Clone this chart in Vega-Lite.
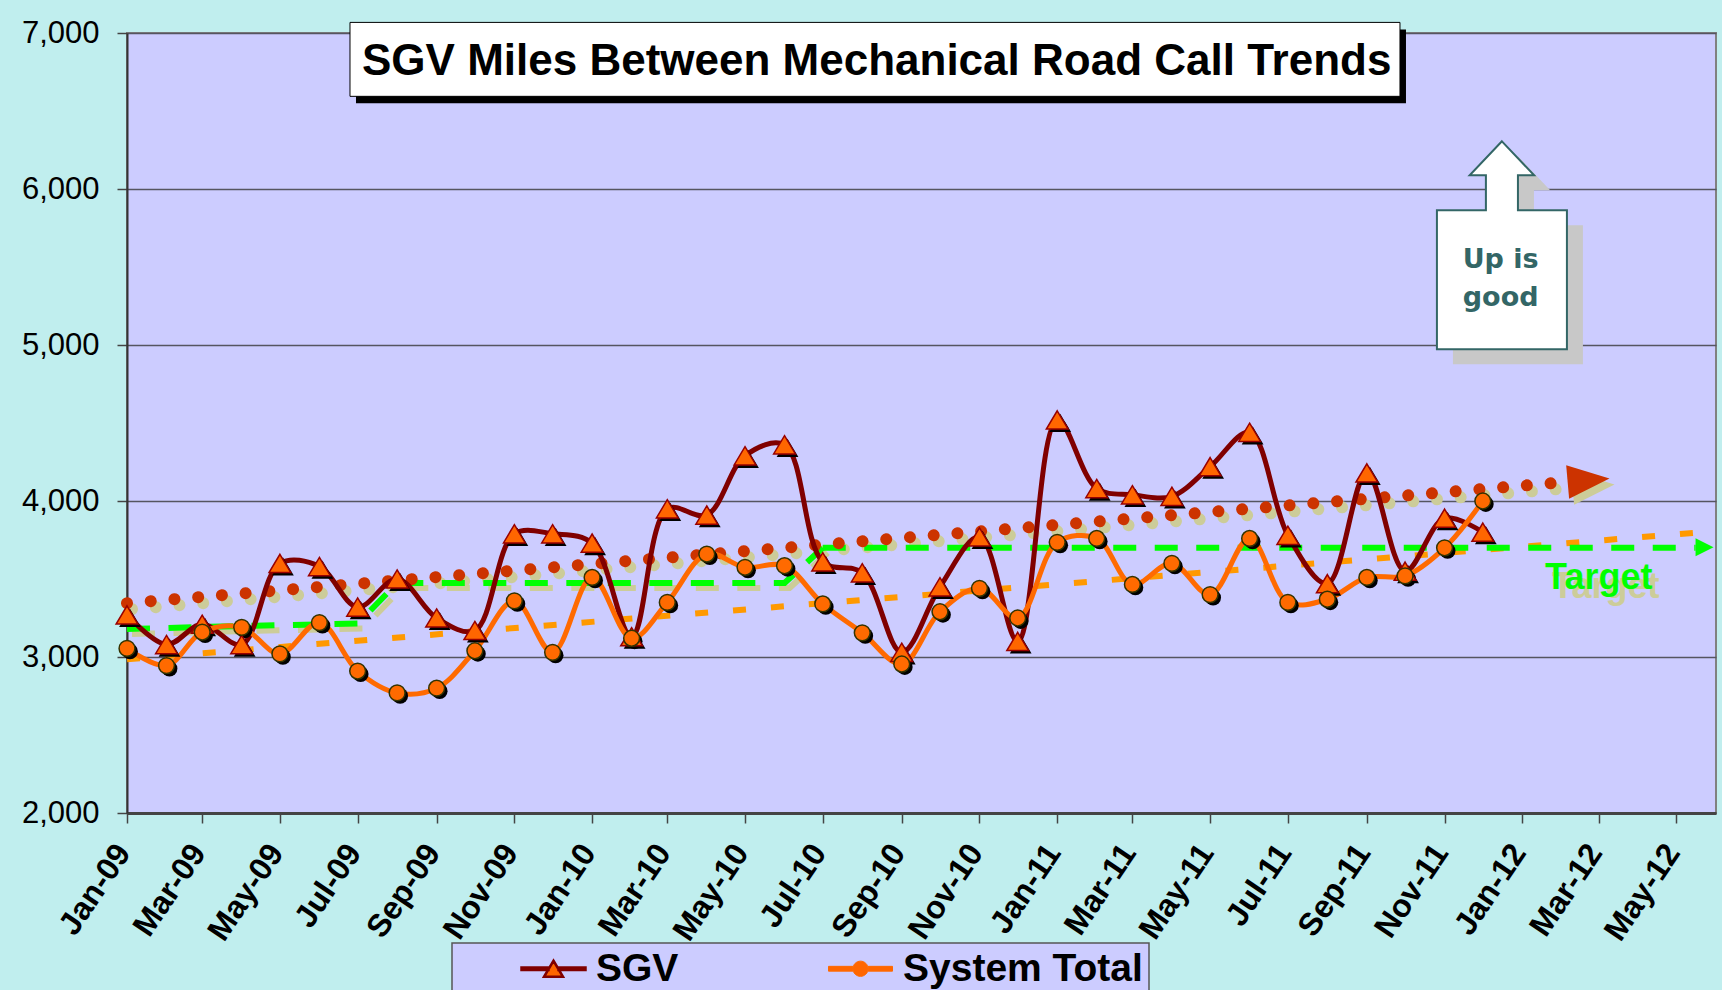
{
  "$schema": "https://vega.github.io/schema/vega-lite/v6.json",
  "width": 1589,
  "height": 780,
  "autosize": {"type": "none"},
  "padding": {"left": 127, "top": 33, "right": 6, "bottom": 177},
  "background": "#C0EEEE",
  "title": {
    "text": "SGV Miles Between Mechanical Road Call Trends",
    "anchor": "start",
    "frame": "group",
    "orient": "top",
    "offset": 0,
    "dx": 235,
    "dy": 102,
    "font": "Liberation Sans",
    "fontSize": 44,
    "fontWeight": "bold",
    "color": "#000000",
    "baseline": "alphabetic"
  },
  "datasets": {
    "series": [
      {"date": "2009-01-01", "series": "SGV", "value": 3270},
      {"date": "2009-02-01", "series": "SGV", "value": 3080},
      {"date": "2009-03-01", "series": "SGV", "value": 3210},
      {"date": "2009-04-01", "series": "SGV", "value": 3080},
      {"date": "2009-05-01", "series": "SGV", "value": 3600},
      {"date": "2009-06-01", "series": "SGV", "value": 3580},
      {"date": "2009-07-01", "series": "SGV", "value": 3320},
      {"date": "2009-08-01", "series": "SGV", "value": 3500},
      {"date": "2009-09-01", "series": "SGV", "value": 3250},
      {"date": "2009-10-01", "series": "SGV", "value": 3170},
      {"date": "2009-11-01", "series": "SGV", "value": 3790},
      {"date": "2009-12-01", "series": "SGV", "value": 3790},
      {"date": "2010-01-01", "series": "SGV", "value": 3730},
      {"date": "2010-02-01", "series": "SGV", "value": 3130},
      {"date": "2010-03-01", "series": "SGV", "value": 3950},
      {"date": "2010-04-01", "series": "SGV", "value": 3910},
      {"date": "2010-05-01", "series": "SGV", "value": 4290},
      {"date": "2010-06-01", "series": "SGV", "value": 4360},
      {"date": "2010-07-01", "series": "SGV", "value": 3610},
      {"date": "2010-08-01", "series": "SGV", "value": 3540},
      {"date": "2010-09-01", "series": "SGV", "value": 3030},
      {"date": "2010-10-01", "series": "SGV", "value": 3450},
      {"date": "2010-11-01", "series": "SGV", "value": 3770},
      {"date": "2010-12-01", "series": "SGV", "value": 3100},
      {"date": "2011-01-01", "series": "SGV", "value": 4520},
      {"date": "2011-02-01", "series": "SGV", "value": 4080},
      {"date": "2011-03-01", "series": "SGV", "value": 4040},
      {"date": "2011-04-01", "series": "SGV", "value": 4030},
      {"date": "2011-05-01", "series": "SGV", "value": 4220},
      {"date": "2011-06-01", "series": "SGV", "value": 4440},
      {"date": "2011-07-01", "series": "SGV", "value": 3780},
      {"date": "2011-08-01", "series": "SGV", "value": 3470},
      {"date": "2011-09-01", "series": "SGV", "value": 4180},
      {"date": "2011-10-01", "series": "SGV", "value": 3550},
      {"date": "2011-11-01", "series": "SGV", "value": 3890},
      {"date": "2011-12-01", "series": "SGV", "value": 3800},
      {"date": "2009-01-01", "series": "System Total", "value": 3055},
      {"date": "2009-02-01", "series": "System Total", "value": 2945},
      {"date": "2009-03-01", "series": "System Total", "value": 3160},
      {"date": "2009-04-01", "series": "System Total", "value": 3190},
      {"date": "2009-05-01", "series": "System Total", "value": 3020},
      {"date": "2009-06-01", "series": "System Total", "value": 3220},
      {"date": "2009-07-01", "series": "System Total", "value": 2910},
      {"date": "2009-08-01", "series": "System Total", "value": 2770},
      {"date": "2009-09-01", "series": "System Total", "value": 2800},
      {"date": "2009-10-01", "series": "System Total", "value": 3040},
      {"date": "2009-11-01", "series": "System Total", "value": 3360},
      {"date": "2009-12-01", "series": "System Total", "value": 3030},
      {"date": "2010-01-01", "series": "System Total", "value": 3510},
      {"date": "2010-02-01", "series": "System Total", "value": 3120},
      {"date": "2010-03-01", "series": "System Total", "value": 3350},
      {"date": "2010-04-01", "series": "System Total", "value": 3660},
      {"date": "2010-05-01", "series": "System Total", "value": 3575},
      {"date": "2010-06-01", "series": "System Total", "value": 3585},
      {"date": "2010-07-01", "series": "System Total", "value": 3340},
      {"date": "2010-08-01", "series": "System Total", "value": 3155},
      {"date": "2010-09-01", "series": "System Total", "value": 2955},
      {"date": "2010-10-01", "series": "System Total", "value": 3290},
      {"date": "2010-11-01", "series": "System Total", "value": 3440},
      {"date": "2010-12-01", "series": "System Total", "value": 3250},
      {"date": "2011-01-01", "series": "System Total", "value": 3735},
      {"date": "2011-02-01", "series": "System Total", "value": 3760},
      {"date": "2011-03-01", "series": "System Total", "value": 3465},
      {"date": "2011-04-01", "series": "System Total", "value": 3600},
      {"date": "2011-05-01", "series": "System Total", "value": 3400},
      {"date": "2011-06-01", "series": "System Total", "value": 3760},
      {"date": "2011-07-01", "series": "System Total", "value": 3350},
      {"date": "2011-08-01", "series": "System Total", "value": 3370},
      {"date": "2011-09-01", "series": "System Total", "value": 3510},
      {"date": "2011-10-01", "series": "System Total", "value": 3520},
      {"date": "2011-11-01", "series": "System Total", "value": 3700},
      {"date": "2011-12-01", "series": "System Total", "value": 4000}
    ],
    "targetOld": [
      {"date": "2009-01-01", "value": 3180},
      {"date": "2009-02-01", "value": 3186},
      {"date": "2009-03-01", "value": 3192},
      {"date": "2009-04-01", "value": 3198},
      {"date": "2009-05-01", "value": 3204},
      {"date": "2009-06-01", "value": 3209},
      {"date": "2009-07-01", "value": 3214},
      {"date": "2009-08-01", "value": 3474},
      {"date": "2009-09-01", "value": 3474},
      {"date": "2009-10-01", "value": 3474},
      {"date": "2009-11-01", "value": 3474},
      {"date": "2009-12-01", "value": 3474},
      {"date": "2010-01-01", "value": 3474},
      {"date": "2010-02-01", "value": 3474},
      {"date": "2010-03-01", "value": 3474},
      {"date": "2010-04-01", "value": 3474},
      {"date": "2010-05-01", "value": 3474},
      {"date": "2010-06-01", "value": 3474},
      {"date": "2010-07-01", "value": 3700}
    ],
    "targetNew": [
      {"date": "2010-07-01", "value": 3700},
      {"date": "2010-08-01", "value": 3700},
      {"date": "2010-09-01", "value": 3700},
      {"date": "2010-10-01", "value": 3700},
      {"date": "2010-11-01", "value": 3700},
      {"date": "2010-12-01", "value": 3700},
      {"date": "2011-01-01", "value": 3700},
      {"date": "2011-02-01", "value": 3700},
      {"date": "2011-03-01", "value": 3700},
      {"date": "2011-04-01", "value": 3700},
      {"date": "2011-05-01", "value": 3700},
      {"date": "2011-06-01", "value": 3700},
      {"date": "2011-07-01", "value": 3700},
      {"date": "2011-08-01", "value": 3700},
      {"date": "2011-09-01", "value": 3700},
      {"date": "2011-10-01", "value": 3700},
      {"date": "2011-11-01", "value": 3700},
      {"date": "2011-12-01", "value": 3700},
      {"date": "2012-01-01", "value": 3700},
      {"date": "2012-02-01", "value": 3700},
      {"date": "2012-03-01", "value": 3700},
      {"date": "2012-04-01", "value": 3700},
      {"date": "2012-05-01", "value": 3700},
      {"date": "2012-05-16", "value": 3700}
    ],
    "sgvTrend": [
      {"date": "2009-01-01", "value": 3345},
      {"date": "2012-02-15", "value": 4129}
    ],
    "sysTrend": [
      {"date": "2009-01-01", "value": 2985},
      {"date": "2012-05-14", "value": 3795}
    ],
    "sgvArrow": [{"date": "2012-02-22", "value": 4133}],
    "targetArrow": [{"date": "2012-05-23", "value": 3703}],
    "targetLabel": [{"date": "2012-03-01", "value": 3434, "text": "Target"}],
    "callout": [{"date": "2011-12-16", "value": 5639}],
    "calloutText": [
      {"date": "2011-12-15", "value": 5492, "text": "Up is"},
      {"date": "2011-12-15", "value": 5248, "text": "good"}
    ],
    "titleBox": [{"date": "2009-06-25", "date2": "2011-09-27", "value": 7068, "value2": 6594}]
  },
  "encoding": {
    "x": {
      "field": "date",
      "type": "temporal",
      "scale": {
        "type": "utc",
        "domain": [
          {"year": 2009, "month": 1, "date": 1, "utc": true},
          {"year": 2012, "month": 6, "date": 1, "utc": true}
        ]
      },
      "axis": {
        "title": null,
        "values": [
          {"year": 2009, "month": 1, "date": 1, "utc": true},
          {"year": 2009, "month": 3, "date": 1, "utc": true},
          {"year": 2009, "month": 5, "date": 1, "utc": true},
          {"year": 2009, "month": 7, "date": 1, "utc": true},
          {"year": 2009, "month": 9, "date": 1, "utc": true},
          {"year": 2009, "month": 11, "date": 1, "utc": true},
          {"year": 2010, "month": 1, "date": 1, "utc": true},
          {"year": 2010, "month": 3, "date": 1, "utc": true},
          {"year": 2010, "month": 5, "date": 1, "utc": true},
          {"year": 2010, "month": 7, "date": 1, "utc": true},
          {"year": 2010, "month": 9, "date": 1, "utc": true},
          {"year": 2010, "month": 11, "date": 1, "utc": true},
          {"year": 2011, "month": 1, "date": 1, "utc": true},
          {"year": 2011, "month": 3, "date": 1, "utc": true},
          {"year": 2011, "month": 5, "date": 1, "utc": true},
          {"year": 2011, "month": 7, "date": 1, "utc": true},
          {"year": 2011, "month": 9, "date": 1, "utc": true},
          {"year": 2011, "month": 11, "date": 1, "utc": true},
          {"year": 2012, "month": 1, "date": 1, "utc": true},
          {"year": 2012, "month": 3, "date": 1, "utc": true},
          {"year": 2012, "month": 5, "date": 1, "utc": true}
        ],
        "format": "%b-%y",
        "labelAngle": -56,
        "labelAlign": "right",
        "labelBaseline": "middle",
        "labelFont": "Liberation Sans",
        "labelFontSize": 32,
        "labelFontWeight": "bold",
        "labelColor": "#000000",
        "labelPadding": 24,
        "labelOffset": -4,
        "labelOverlap": false,
        "labelBound": false,
        "labelFlush": false,
        "tickSize": 10,
        "tickColor": "#444444",
        "tickWidth": 1.5,
        "domainColor": "#444444",
        "domainWidth": 3,
        "grid": false
      }
    },
    "y": {
      "field": "value",
      "type": "quantitative",
      "scale": {"domain": [2000, 7000], "nice": false, "zero": false},
      "axis": {
        "title": null,
        "values": [2000, 3000, 4000, 5000, 6000, 7000],
        "format": ",.0f",
        "labelFont": "Liberation Sans",
        "labelFontSize": 31,
        "labelColor": "#000000",
        "labelPadding": 18,
        "tickSize": 10,
        "tickColor": "#444444",
        "tickWidth": 1.5,
        "domainColor": "#333333",
        "domainWidth": 2,
        "grid": true,
        "gridColor": "#555560",
        "gridWidth": 1.5
      }
    }
  },
  "layer": [
    {
      "data": {"name": "titleBox"},
      "mark": {"type": "rect", "clip": false, "fill": "#000000", "xOffset": 6, "x2Offset": 6, "yOffset": 7, "y2Offset": 7},
      "encoding": {"x2": {"field": "date2"}, "y2": {"field": "value2"}}
    },
    {
      "data": {"name": "titleBox"},
      "mark": {"type": "rect", "clip": false, "fill": "#FFFFFF", "stroke": "#000000", "strokeWidth": 1},
      "encoding": {"x2": {"field": "date2"}, "y2": {"field": "value2"}}
    },
    {
      "data": {"name": "callout"},
      "mark": {"type": "point", "shape": "M0,-1 L0.31,-0.673 L0.154,-0.673 L0.154,-0.337 L0.625,-0.337 L0.625,1 L-0.625,1 L-0.625,-0.337 L-0.154,-0.337 L-0.154,-0.673 L-0.31,-0.673 Z", "size": 43264, "filled": true, "fill": "#C8C8C8", "strokeWidth": 0, "opacity": 1, "xOffset": 16, "yOffset": 15}
    },
    {
      "data": {"name": "callout"},
      "mark": {"type": "point", "shape": "M0,-1 L0.31,-0.673 L0.154,-0.673 L0.154,-0.337 L0.625,-0.337 L0.625,1 L-0.625,1 L-0.625,-0.337 L-0.154,-0.337 L-0.154,-0.673 L-0.31,-0.673 Z", "size": 43264, "filled": true, "fill": "#FFFFFF", "stroke": "#336666", "strokeWidth": 2, "opacity": 1}
    },
    {
      "data": {"name": "calloutText"},
      "mark": {"type": "text", "font": "DejaVu Sans", "fontSize": 27, "fontWeight": "bold", "color": "#336666", "align": "center", "baseline": "alphabetic"},
      "encoding": {"text": {"field": "text"}}
    },
    {
      "data": {"name": "sgvTrend"},
      "mark": {"type": "line", "color": "#CCCC99", "strokeWidth": 12, "strokeCap": "round", "strokeDash": [0.01, 23.8], "xOffset": 5, "yOffset": 6}
    },
    {
      "data": {"name": "sgvArrow"},
      "mark": {"type": "point", "shape": "M-1,-0.8 L1,0 L-1,0.8 Z", "size": 1764, "angle": -5, "filled": true, "fill": "#CCCC99", "strokeWidth": 0, "opacity": 1, "xOffset": 5, "yOffset": 6}
    },
    {
      "data": {"name": "targetOld"},
      "mark": {"type": "line", "color": "#CCCC99", "strokeWidth": 6, "strokeDash": [23, 18.5], "xOffset": 5, "yOffset": 5}
    },
    {
      "data": {"name": "sysTrend"},
      "mark": {"type": "line", "color": "#FF9900", "strokeWidth": 6, "strokeDash": [13, 25]}
    },
    {
      "data": {"name": "targetOld"},
      "mark": {"type": "line", "color": "#00FF00", "strokeWidth": 6, "strokeDash": [23, 18.5]}
    },
    {
      "data": {"name": "targetNew"},
      "mark": {"type": "line", "color": "#00FF00", "strokeWidth": 6, "strokeDash": [23, 18.5]}
    },
    {
      "data": {"name": "targetArrow"},
      "mark": {"type": "point", "shape": "M-1,-1 L1,0 L-1,1 Z", "size": 324, "filled": true, "fill": "#00FF00", "strokeWidth": 0, "opacity": 1}
    },
    {
      "data": {"name": "sgvTrend"},
      "mark": {"type": "line", "color": "#CC3300", "strokeWidth": 12, "strokeCap": "round", "strokeDash": [0.01, 23.8]}
    },
    {
      "data": {"name": "sgvArrow"},
      "mark": {"type": "point", "shape": "M-1,-0.8 L1,0 L-1,0.8 Z", "size": 1764, "angle": -5, "filled": true, "fill": "#CC3300", "strokeWidth": 0, "opacity": 1}
    },
    {
      "data": {"name": "targetLabel"},
      "mark": {"type": "text", "font": "Liberation Sans", "fontSize": 36, "fontWeight": "bold", "color": "#CCCC99", "align": "center", "baseline": "alphabetic", "dx": 7, "dy": 9},
      "encoding": {"text": {"field": "text"}}
    },
    {
      "data": {"name": "targetLabel"},
      "mark": {"type": "text", "font": "Liberation Sans", "fontSize": 36, "fontWeight": "bold", "color": "#00FF00", "align": "center", "baseline": "alphabetic"},
      "encoding": {"text": {"field": "text"}}
    },
    {
      "data": {"name": "series"},
      "mark": {"type": "line", "interpolate": "catmull-rom", "strokeWidth": 5},
      "encoding": {
        "color": {
          "field": "series",
          "type": "nominal",
          "scale": {"domain": ["SGV", "System Total"], "range": ["#800000", "#FF6A00"]},
          "legend": {
            "orient": "none",
            "legendX": 325,
            "legendY": 910,
            "direction": "horizontal",
            "title": " ",
            "titleOrient": "left",
            "titleFontSize": 10,
            "titlePadding": 76,
            "padding": 6,
            "fillColor": "#CCCCFF",
            "strokeColor": "#555555",
            "labelFont": "Liberation Sans",
            "labelFontSize": 39,
            "labelFontWeight": "bold",
            "labelColor": "#000000",
            "labelLimit": 400,
            "labelOffset": 23,
            "columnPadding": 147,
            "symbolSize": 1600,
            "symbolStrokeWidth": 2.5,
            "encode": {
              "legend": {"update": {"strokeWidth": {"value": 1.5}}},
              "symbols": {
                "update": {
                  "shape": {"signal": "datum.value === 'SGV' ? 'M-1.6,-0.06 L-0.25,-0.06 L-0.25,0.06 L-1.6,0.06 Z M0.25,-0.06 L1.6,-0.06 L1.6,0.06 L0.25,0.06 Z M0,-0.4 L0.475,0.4 L-0.475,0.4 Z' : 'M-1.6,-0.12 L-0.38,-0.12 L-0.38,0.12 L-1.6,0.12 Z M0.38,-0.12 L1.6,-0.12 L1.6,0.12 L0.38,0.12 Z M-0.38,0 A0.38,0.38 0 1,1 0.38,0 A0.38,0.38 0 1,1 -0.38,0 Z'"},
                  "fill": {"value": "#FF6600"},
                  "stroke": {"signal": "datum.value === 'SGV' ? '#800000' : '#FF6A00'"},
                  "strokeWidth": {"signal": "datum.value === 'SGV' ? 2.5 : 1"},
                  "opacity": {"value": 1}
                }
              }
            }
          }
        }
      }
    },
    {
      "data": {"name": "series"},
      "transform": [{"filter": "datum.series === 'SGV'"}],
      "mark": {"type": "point", "shape": "M0,-1.14 L1.36,1.14 L-1.36,1.14 Z", "filled": true, "fill": "#000000", "strokeWidth": 0, "opacity": 1, "size": 256, "xOffset": 3, "yOffset": 3}
    },
    {
      "data": {"name": "series"},
      "transform": [{"filter": "datum.series === 'System Total'"}],
      "mark": {"type": "point", "shape": "circle", "filled": true, "fill": "#000000", "strokeWidth": 0, "opacity": 1, "size": 250, "xOffset": 3, "yOffset": 3}
    },
    {
      "data": {"name": "series"},
      "transform": [{"filter": "datum.series === 'SGV'"}],
      "mark": {"type": "point", "shape": "M0,-1.14 L1.36,1.14 L-1.36,1.14 Z", "filled": true, "fill": "#FF6600", "stroke": "#990000", "strokeWidth": 1.5, "opacity": 1, "size": 256}
    },
    {
      "data": {"name": "series"},
      "transform": [{"filter": "datum.series === 'System Total'"}],
      "mark": {"type": "point", "shape": "circle", "filled": true, "fill": "#FF6A00", "stroke": "#333300", "strokeWidth": 1.5, "opacity": 1, "size": 250}
    }
  ],
  "config": {
    "view": {"fill": "#CCCCFF", "stroke": "#808080", "strokeWidth": 2},
    "font": "Liberation Sans"
  }
}
